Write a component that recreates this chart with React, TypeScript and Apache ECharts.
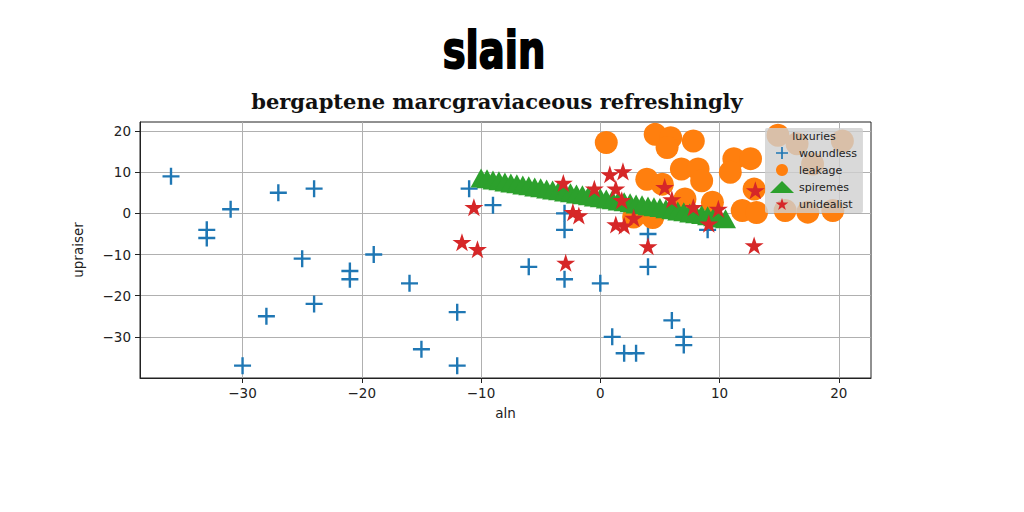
import React, { useEffect, useRef } from "react";
import * as echarts from "echarts";

const titleText = "slain";
const subtitleText = "bergaptene marcgraviaceous refreshingly";
const xName = "aln";
const yName = "upraiser";
const legendTitle = "luxuries";

const xTicks = [-30, -20, -10, 0, 10, 20];
const yTicks = [-30, -20, -10, 0, 10, 20];

const woundlessX = [-36, -31, -33, -33, -27, -24, -25, -21, -21, -19, -24, -28, -30, -11, -9, -3, -3, -6, -3, 0, -16, -12, -15, -12, 1, 2, 3, 4, 4, 6, 7, 7, 9];
const woundlessY = [9, 1, -4, -6, 5, 6, -11, -14, -16, -10, -22, -25, -37, 6, 2, 0, -4, -13, -16, -17, -17, -24, -33, -37, -30, -34, -34, -5, -13, -26, -30, -32, -4];

const leakageX = [0.5, 4.6, 5.9, 5.6, 7.8, 6.8, 8.2, 8.5, 3.9, 5.2, 7.1, 9.4, 11.2, 12.6, 10.9, 12.9, 11.9, 13.1, 2.8, 4.4, 14.9, 16.5, 20.3, 15.5, 17.4, 19.5, 17.8];
const leakageY = [17.2, 19.2, 18.4, 16.0, 17.6, 10.8, 10.8, 7.9, 8.3, 7.1, 3.5, 2.7, 13.3, 13.3, 10.0, 5.9, 0.7, 0.2, -0.9, -1.0, 19.0, 16.9, 17.6, 0.7, 0.3, 0.7, 12.0];

const spiremesX = [-10, -9.5, -9, -8.5, -8, -7.5, -7, -6.5, -6, -5.5, -5, -4.5, -4, -3.5, -3, -2.5, -2, -1.5, -1, -0.5, 0, 0.5, 1, 1.5, 2, 2.5, 3, 3.5, 4, 4.5, 5, 5.5, 6, 6.5, 7, 7.5, 8, 8.5, 9, 9.5, 10, 10.5];
const spiremesY = [8.6, 8.4, 8.1, 7.9, 7.6, 7.4, 7.2, 6.9, 6.7, 6.4, 6.2, 5.9, 5.7, 5.5, 5.2, 5.0, 4.7, 4.5, 4.3, 4.0, 3.8, 3.5, 3.3, 3.0, 2.8, 2.6, 2.3, 2.1, 1.8, 1.6, 1.4, 1.1, 0.9, 0.6, 0.4, 0.1, -0.1, -0.3, -0.6, -0.8, -1.1, -1.3];

const unidealistX = [-10.6, -11.6, -10.3, -3.1, -0.5, -2.3, -1.8, -2.9, 0.8, 1.9, 1.3, 1.8, 1.3, 2.0, 2.8, 5.4, 6.0, 7.8, 9.1, 9.9, 4.0, 12.9, 13.0];
const unidealistY = [1.5, -7.0, -8.7, 7.4, 6.0, 0.3, -0.5, -12.0, 9.5, 10.2, 6.0, 3.2, -2.7, -3.0, -1.1, 6.4, 3.4, 1.5, -2.5, 1.1, -8.0, -7.8, 5.6];

const seriesNames = ["woundless", "leakage", "spiremes", "unidealist"];
const colors = ["#1f77b4", "#ff7f0e", "#2ca02c", "#d62728"];

const PLUS = "path://M-7,-50 L7,-50 L7,-7 L50,-7 L50,7 L7,7 L7,50 L-7,50 L-7,7 L-50,7 L-50,-7 L-7,-7 Z";
const STAR = "path://M0,-100 L22.45,-30.9 L95.1,-30.9 L36.3,11.8 L58.8,80.9 L0,38.2 L-58.8,80.9 L-36.3,11.8 L-95.1,-30.9 L-22.45,-30.9 Z";

const zip = (xs: number[], ys: number[]) => xs.map((x, i) => [x, ys[i]]);
const fmt = (v: number) => (v < 0 ? "\u2212" + Math.abs(v) : String(v));

export default function App() {
  const ref = useRef<HTMLDivElement>(null);
  useEffect(() => {
    document.body.style.margin = "0";
    const chart = echarts.init(ref.current!, null, { renderer: "svg" });
    const axisFont = { fontFamily: "DejaVu Sans", fontSize: 13.5, color: "#222" };
    chart.setOption({
      animation: false,
      backgroundColor: "#ffffff",
      grid: { left: 140, top: 122, right: 153, bottom: 134, show: true, borderColor: "#222", borderWidth: 1, containLabel: false },
      xAxis: {
        type: "value",
        min: -38.6,
        max: 22.7,
        name: xName,
        nameLocation: "middle",
        nameGap: 28,
        nameTextStyle: { ...axisFont },
        axisLine: { show: true, onZero: false, lineStyle: { color: "#222", width: 1 } },
        axisTick: { show: true, length: 5, customValues: xTicks, lineStyle: { color: "#222" } },
        axisLabel: { customValues: xTicks, formatter: fmt, margin: 8, ...axisFont },
        splitLine: { show: true, lineStyle: { color: "#b0b0b0", width: 1 } },
      },
      yAxis: {
        type: "value",
        min: -40,
        max: 22.2,
        name: yName,
        nameLocation: "middle",
        nameGap: 55,
        nameRotate: 90,
        nameTextStyle: { ...axisFont },
        axisLine: { show: true, onZero: false, lineStyle: { color: "#222", width: 1 } },
        axisTick: { show: true, length: 5, customValues: yTicks, lineStyle: { color: "#222" } },
        axisLabel: { customValues: yTicks, formatter: fmt, margin: 9, ...axisFont },
        splitLine: { show: true, lineStyle: { color: "#b0b0b0", width: 1 } },
      },
      legend: {
        orient: "vertical",
        left: 765,
        top: 128,
        padding: [19, 6, 3, 5],
        itemWidth: 24,
        itemHeight: 12,
        itemGap: 5,
        backgroundColor: "rgba(208,208,208,0.8)",
        borderRadius: 2,
        data: seriesNames,
        textStyle: { fontFamily: "DejaVu Sans", fontSize: 11, color: "#222" },
      },
      graphic: [
        {
          type: "text",
          x: 494,
          y: 50,
          scaleX: 0.74,
          z: 10,
          style: { text: titleText, font: "bold 52px 'DejaVu Sans'", fill: "#000", stroke: "#000", lineWidth: 2, align: "center", verticalAlign: "middle" },
        },
        {
          type: "text",
          x: 497,
          y: 101,
          z: 10,
          style: { text: subtitleText, font: "bold 21px 'DejaVu Serif'", fill: "#111", align: "center", verticalAlign: "middle" },
        },
        {
          type: "text",
          x: 814,
          y: 136,
          z: 100,
          style: { text: legendTitle, font: "11px 'DejaVu Sans'", fill: "#222", align: "center", verticalAlign: "middle" },
        },
      ],
      series: [
        {
          name: seriesNames[0],
          type: "scatter",
          data: zip(woundlessX, woundlessY),
          symbol: PLUS,
          symbolSize: 17,
          itemStyle: { color: colors[0], opacity: 1 },
        },
        {
          name: seriesNames[1],
          type: "scatter",
          data: zip(leakageX, leakageY),
          symbol: "circle",
          symbolSize: 23,
          itemStyle: { color: colors[1], opacity: 1 },
        },
        {
          name: seriesNames[2],
          type: "scatter",
          data: zip(spiremesX, spiremesY),
          symbol: "triangle",
          symbolSize: [21, 19],
          itemStyle: { color: colors[2], opacity: 1 },
        },
        {
          name: seriesNames[3],
          type: "scatter",
          data: zip(unidealistX, unidealistY),
          symbol: STAR,
          symbolKeepAspect: true,
          symbolSize: 19,
          itemStyle: { color: colors[3], opacity: 1 },
        },
      ],
    });
    return () => chart.dispose();
  }, []);
  return <div ref={ref} style={{ width: 1024, height: 512 }} />;
}
